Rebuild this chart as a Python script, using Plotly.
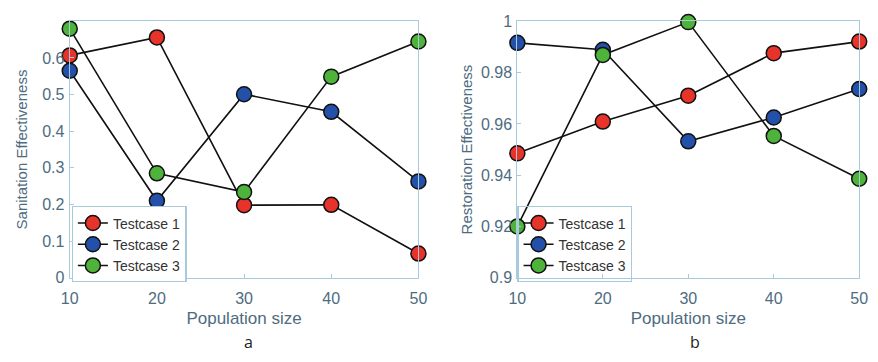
import plotly.graph_objects as go

pop = [10, 20, 30, 40, 50]
names = ["Testcase 1", "Testcase 2", "Testcase 3"]
colors = ["#e8332b", "#2350a8", "#4db33a"]

san_t1 = [0.607, 0.656, 0.198, 0.199, 0.066]
san_t2 = [0.565, 0.210, 0.501, 0.453, 0.263]
san_t3 = [0.680, 0.285, 0.234, 0.549, 0.645]

res_t1 = [0.9485, 0.9609, 0.9710, 0.9876, 0.9921]
res_t2 = [0.9916, 0.9889, 0.9532, 0.9625, 0.9736]
res_t3 = [0.9200, 0.9869, 0.9997, 0.9553, 0.9386]

san_ticks = [0, 0.1, 0.2, 0.3, 0.4, 0.5, 0.6]
san_labels = ["0", "0.1", "0.2", "0.3", "0.4", "0.5", "0.6"]
res_ticks = [0.9, 0.92, 0.94, 0.96, 0.98, 1.0]
res_labels = ["0.9", "0.92", "0.94", "0.96", "0.98", "1"]

FONT = "Liberation Sans, Arial, sans-serif"
TICKC = "#4e6c80"
AXC = "#a9c9dc"

fig = go.Figure()

for ys, nm, c in zip([san_t1, san_t2, san_t3], names, colors):
    fig.add_trace(go.Scatter(x=pop, y=ys, name=nm, mode="lines+markers",
                             line=dict(color="#111111", width=1.6),
                             marker=dict(color=c, size=15, line=dict(color="#111111", width=1.5)),
                             cliponaxis=False, xaxis="x", yaxis="y", legend="legend"))
for ys, nm, c in zip([res_t1, res_t2, res_t3], names, colors):
    fig.add_trace(go.Scatter(x=pop, y=ys, name=nm, mode="lines+markers",
                             line=dict(color="#111111", width=1.6),
                             marker=dict(color=c, size=15, line=dict(color="#111111", width=1.5)),
                             cliponaxis=False, xaxis="x2", yaxis="y2", legend="legend2"))

W, H = 878, 362
def dx(a, b):
    return [a / W, b / W]
ydom = [1 - 283 / H, 1 - 14 / H]

axcommon = dict(showgrid=False, zeroline=False, showline=True, linecolor=AXC, linewidth=1.2,
                mirror=True, ticks="inside", tickcolor=AXC, ticklen=4,
                tickfont=dict(family=FONT, size=16, color=TICKC))

xtitle = dict(text="Population size", font=dict(family=FONT, size=17, color=TICKC), standoff=6)

fig.update_layout(
    width=W, height=H,
    margin=dict(l=0, r=0, t=0, b=0),
    paper_bgcolor="white", plot_bgcolor="white",
    font=dict(family=FONT, color=TICKC),
    xaxis=dict(domain=dx(62, 418), range=[10, 50], tickvals=pop, anchor="y",
               ticklabelstandoff=6, title=xtitle, **axcommon),
    yaxis=dict(domain=ydom, range=[0, 0.7], tickvals=san_ticks, ticktext=san_labels, anchor="x",
               ticklabelstandoff=1,
               title=dict(text="Sanitation Effectiveness", font=dict(family=FONT, size=15, color=TICKC), standoff=10),
               **axcommon),
    xaxis2=dict(domain=dx(519, 868), range=[10, 50], tickvals=pop, anchor="y2",
                ticklabelstandoff=6, title=xtitle, **axcommon),
    yaxis2=dict(domain=ydom, range=[0.9, 1.0], tickvals=res_ticks, ticktext=res_labels, anchor="x2",
                ticklabelstandoff=1,
                title=dict(text="Restoration Effectiveness", font=dict(family=FONT, size=15, color=TICKC), standoff=4),
                **axcommon),
    legend=dict(x=64 / W, y=1 - 208 / H, xanchor="left", yanchor="top",
                bordercolor=AXC, borderwidth=1.2, bgcolor="white",
                font=dict(family=FONT, size=14, color="#333333"), tracegroupgap=0,
                itemwidth=30),
    legend2=dict(x=519 / W, y=1 - 208 / H, xanchor="left", yanchor="top",
                 bordercolor=AXC, borderwidth=1.2, bgcolor="rgba(255,255,255,0)",
                 font=dict(family=FONT, size=14, color="#333333"), tracegroupgap=0,
                 itemwidth=30),
    annotations=[
        dict(text="a", x=245 / W, y=1 - 350 / H, xref="paper", yref="paper", showarrow=False,
             xanchor="center", yanchor="middle",
             font=dict(family="Open Sans, sans-serif", size=16, color="#222222")),
        dict(text="b", x=700 / W, y=1 - 350 / H, xref="paper", yref="paper", showarrow=False,
             xanchor="center", yanchor="middle",
             font=dict(family="Open Sans, sans-serif", size=16, color="#222222")),
    ],
)

fig.write_html("out.html")
